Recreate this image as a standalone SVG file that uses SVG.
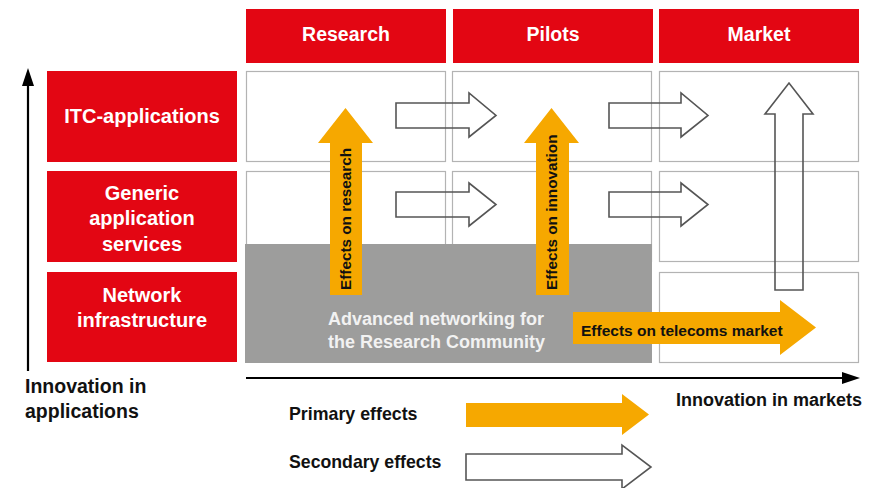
<svg xmlns="http://www.w3.org/2000/svg" width="884" height="488" viewBox="0 0 884 488">
<style>
text{font-family:"Liberation Sans",Arial,sans-serif;font-weight:bold}
.hdr{fill:#E30613}
.hdrt{fill:#fff;font-size:19.5px;text-anchor:middle}
.lbl{fill:#fff;font-size:20px;text-anchor:middle}
.cell{fill:none;stroke:#b3b3b3;stroke-width:1.2}
.prim{fill:#F6A800}
.sec{fill:none;stroke:#555;stroke-width:1.6}
.sec2{fill:#fff;stroke:#555;stroke-width:1.6}
.dark{fill:#111}
.ax{stroke:#000;stroke-width:2.2;fill:none}
</style>
<rect width="884" height="488" fill="#fff"/>
<g id="header-research"><rect class="hdr" x="246" y="9" width="200" height="54"/><text class="hdrt" x="346" y="41">Research</text></g>
<g id="header-pilots"><rect class="hdr" x="453" y="9" width="200" height="54"/><text class="hdrt" x="553" y="41">Pilots</text></g>
<g id="header-market"><rect class="hdr" x="659" y="9" width="200" height="54"/><text class="hdrt" x="759" y="41">Market</text></g>
<g id="row-itc"><rect class="hdr" x="47" y="71" width="190" height="91"/><text class="lbl" x="142" y="123">ITC-applications</text></g>
<g id="row-generic"><rect class="hdr" x="47" y="171" width="190" height="91"/><text class="lbl" x="142" y="200">Generic</text><text class="lbl" x="142" y="225">application</text><text class="lbl" x="142" y="251">services</text></g>
<g id="row-network"><rect class="hdr" x="47" y="272" width="190" height="90"/><text class="lbl" x="142" y="302">Network</text><text class="lbl" x="142" y="327">infrastructure</text></g>
<g id="cells">
<rect class="cell" x="246.5" y="71.5" width="199" height="90"/>
<rect class="cell" x="452.5" y="71.5" width="199" height="90"/>
<rect class="cell" x="659.5" y="71.5" width="199" height="90"/>
<rect class="cell" x="246.5" y="171.5" width="199" height="90"/>
<rect class="cell" x="452.5" y="171.5" width="199" height="90"/>
<rect class="cell" x="659.5" y="171.5" width="199" height="90"/>
<rect class="cell" x="659.5" y="272.5" width="199" height="90"/>
</g>
<g id="research-network">
<rect x="245" y="244" width="407" height="119" fill="#9D9D9C"/>
<text x="328" y="325" fill="#f2f2f2" font-size="18px">Advanced networking for</text>
<text x="328" y="348" fill="#f2f2f2" font-size="18px">the Research Community</text>
</g>
<g id="connectors">
<path class="sec" d="M396,103 H469 V93 L496,115.5 L469,137 V128 H396 Z"/>
<path class="sec" d="M396,192 H469 V183 L496,204.5 L469,226 V217 H396 Z"/>
<path class="sec" d="M609,103 H681 V93 L708,115.5 L681,137 V128 H609 Z"/>
<path class="sec" d="M609,192 H681 V183 L708,204.5 L681,226 V217 H609 Z"/>
<path class="sec" d="M775,290 V114 H765 L789,83 L813,114 H803 V290 Z"/>
<path class="prim" d="M330,295 V143 H318 L345.5,108 L373,143 H362 V295 Z"/>
<path class="prim" d="M536,295 V143 H524 L551.5,108 L579,143 H569 V295 Z"/>
<path class="prim" d="M573,312 H780 V300 L816,327.5 L780,355 V344 H573 Z"/>
<text class="dark" font-size="15.3px" transform="translate(351,290) rotate(-90)">Effects on research</text>
<text class="dark" font-size="15.3px" transform="translate(557,290) rotate(-90)">Effects on innovation</text>
<text class="dark" x="581" y="336" font-size="15.5px">Effects on telecoms market</text>
</g>
<g id="axes">
<line class="ax" x1="28" y1="371" x2="28" y2="82"/>
<polygon points="28,68 22,86 34,86" fill="#000"/>
<line class="ax" x1="246" y1="378" x2="845" y2="378"/>
<polygon points="860,378 842,372 842,384" fill="#000"/>
<text class="dark" x="25" y="393" font-size="19.5px">Innovation in</text>
<text class="dark" x="25" y="418" font-size="19.5px">applications</text>
<text class="dark" x="676" y="406" font-size="18px">Innovation in markets</text>
</g>
<g id="legend">
<text class="dark" x="289" y="420" font-size="17.8px">Primary effects</text>
<path class="prim" d="M466,403 H622 V394 L649,414.5 L622,435 V427 H466 Z"/>
<text class="dark" x="289" y="468" font-size="17.7px">Secondary effects</text>
<path class="sec2" d="M466,454 H622 V445 L651,467 L622,489 V480 H466 Z"/>
</g>
</svg>
